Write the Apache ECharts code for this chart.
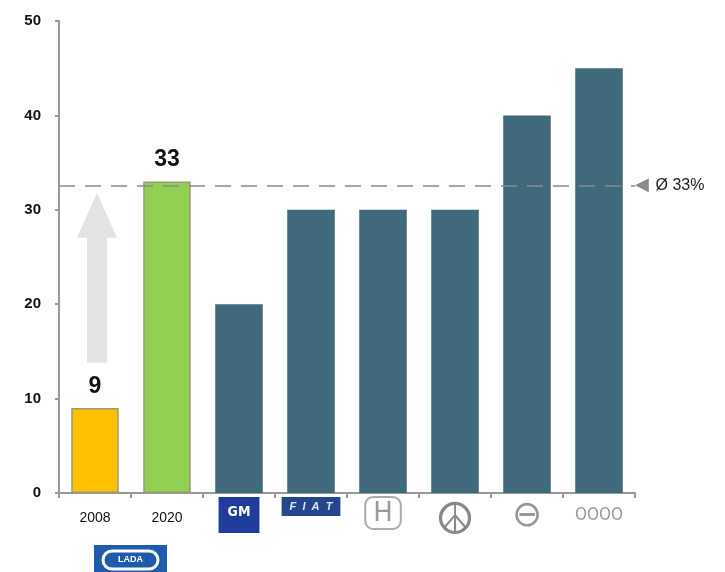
<!DOCTYPE html>
<html>
<head>
<meta charset="utf-8">
<script src="https://cdn.jsdelivr.net/npm/echarts@6/dist/echarts.min.js"></script>
<style>
  html, body { margin: 0; padding: 0; background: #fff; }
  #chart { width: 725px; height: 572px; }
</style>
</head>
<body>
<div id="chart"></div>
<script>
// categories (first two are years for Lada, rest are brand logos)
const categories = ['2008', '2020', 'GM', 'FIAT', 'Honda', 'Mercedes', 'Opel', 'Audi'];
const shares = [9, 33, 20, 30, 30, 30, 40, 45];
const labelled = ['2008', '2020'];
const averageShare = 32.6;
const averageText = 'Ø 33%';
const arrowSpan = [13.8, 31.8]; // arrow from above the 2008 bar up to the average
const yTicks = [0, 10, 20, 30, 40, 50];

const barColors = ['#FFC000', '#92D050', '#40697C', '#40697C', '#40697C', '#40697C', '#40697C', '#40697C'];

const logoStyle = {
  y2008: { fontSize: 14, color: '#111', padding: [14, 0, 0, 0], fontFamily: 'Liberation Sans' },
  y2020: { fontSize: 14, color: '#111', padding: [14, 0, 0, 0], fontFamily: 'Liberation Sans' },
  GM: { fontSize: 14, fontWeight: 'bold', color: '#fff', backgroundColor: '#1F3B9B',
        padding: [8, 9, 14, 9], fontFamily: 'DejaVu Sans Condensed' },
  FIAT: { fontSize: 11, fontStyle: 'italic', fontWeight: 'bold', color: '#dfe6f5',
          backgroundColor: '#25458F', padding: [4, 8, 4, 8], fontFamily: 'Liberation Sans' },
  Honda: { fontSize: 26, color: '#9a9a9a', borderColor: '#aaa', borderWidth: 2, borderRadius: 8,
           padding: [4, 8, 2, 8], fontFamily: 'DejaVu Sans' },
  Mercedes: { fontSize: 44, color: '#888', lineHeight: 52, fontFamily: 'DejaVu Sans' },
  Opel: { fontSize: 36, color: '#999', padding: [2, 0, 0, 0], fontFamily: 'DejaVu Sans' },
  Audi: { fontSize: 17, color: '#999', padding: [10, 0, 0, 0], fontFamily: 'DejaVu Sans Condensed' }
};
const logoText = {
  '2008': '{y2008|2008}', '2020': '{y2020|2020}', GM: '{GM|GM}', FIAT: '{FIAT|F  I  A  T}',
  Honda: '{Honda|H}', Mercedes: '{Mercedes|☮}', Opel: '{Opel|⊖}', Audi: '{Audi|OOOO}'
};

const chart = echarts.init(document.getElementById('chart'));

chart.setOption({
  animation: false,
  textStyle: { fontFamily: 'Liberation Sans' },
  grid: { left: 59, right: 90, top: 21, bottom: 79, containLabel: false },
  xAxis: {
    type: 'category',
    data: categories,
    axisLine: { lineStyle: { color: '#999', width: 2 } },
    axisTick: { show: true, interval: 0, length: 5, lineStyle: { color: '#999', width: 2 } },
    axisLabel: {
      interval: 0,
      margin: 4,
      verticalAlign: 'top',
      formatter: v => logoText[v],
      rich: logoStyle
    }
  },
  yAxis: {
    type: 'value',
    min: 0,
    max: 50,
    interval: 10,
    splitLine: { show: false },
    axisLine: { show: true, lineStyle: { color: '#999', width: 2 } },
    axisTick: { show: true, length: 4, lineStyle: { color: '#999', width: 2 } },
    axisLabel: {
      margin: 18,
      color: '#111',
      fontWeight: 'bold',
      fontSize: 15,
      fontFamily: 'Liberation Sans',
      formatter: v => yTicks.includes(v) ? String(v) : ''
    }
  },
  series: [
    {
      type: 'bar',
      barCategoryGap: '34%',
      data: shares.map((v, i) => ({
        value: v,
        itemStyle: {
          color: barColors[i],
          borderColor: i < 2 ? '#9a9a7a' : '#40697C',
          borderWidth: i < 2 ? 1.5 : 0
        },
        label: {
          show: labelled.includes(categories[i]),
          position: 'top',
          distance: 10,
          formatter: '{c}',
          fontSize: 23,
          fontWeight: 'bold',
          color: '#111',
          fontFamily: 'Liberation Sans'
        }
      })),
      markLine: {
        silent: true,
        symbol: 'none',
        lineStyle: { type: [16, 10], color: '#8a8a8a', width: 1.5 },
        label: {
          position: 'end',
          distance: 0,
          formatter: '{tri|◀}  {txt|' + averageText + '}',
          rich: {
            tri: { fontSize: 18, color: '#8a8a8a', fontFamily: 'DejaVu Sans' },
            txt: { fontSize: 16, color: '#222', fontFamily: 'Liberation Sans' }
          }
        },
        data: [{ yAxis: averageShare }]
      },
      z: 3
    },
    {
      type: 'custom',
      silent: true,
      z: 2,
      data: [[0, arrowSpan[0], arrowSpan[1]]],
      renderItem: function (params, api) {
        const base = api.coord([api.value(0), api.value(1)]);
        const tip = api.coord([api.value(0), api.value(2)]);
        const cx = base[0] + 2;
        const shaftHalf = 10, headHalf = 20, headLen = 45;
        const neck = tip[1] + headLen;
        return {
          type: 'polygon',
          shape: {
            points: [
              [cx - shaftHalf, base[1]],
              [cx - shaftHalf, neck],
              [cx - headHalf, neck],
              [cx, tip[1]],
              [cx + headHalf, neck],
              [cx + shaftHalf, neck],
              [cx + shaftHalf, base[1]]
            ]
          },
          style: { fill: '#E3E3E3' }
        };
      }
    }
  ],
  graphic: [
    {
      type: 'group',
      left: 94,
      top: 545,
      children: [
        { type: 'rect', shape: { x: 0, y: 0, width: 73, height: 30 }, style: { fill: '#1E5BAA' } },
        { type: 'rect', shape: { x: 9, y: 6, width: 55, height: 18, r: 9 },
          style: { fill: 'none', stroke: '#fff', lineWidth: 3 } },
        { type: 'text', style: { x: 36.5, y: 15, text: 'LADA', align: 'center', verticalAlign: 'middle',
          fill: '#fff', font: 'bold 9px Liberation Sans' } }
      ]
    }
  ]
});
</script>
</body>
</html>
